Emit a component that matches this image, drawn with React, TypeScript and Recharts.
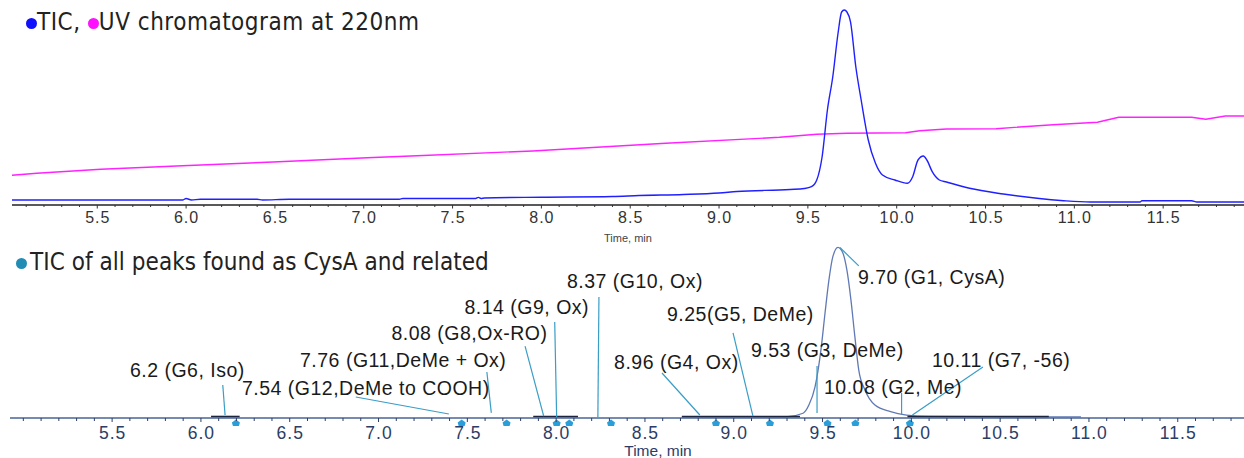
import React from 'react'
import { ComposedChart, Line, Scatter, XAxis, YAxis, ReferenceLine } from 'recharts'

// upper panel: TIC + UV trace (relative intensity)
const topTimes = [5.02, 5.98, 6.0, 6.03, 6.08, 6.4, 6.43, 6.58, 7.2, 7.22, 7.63, 7.645, 7.66, 7.68, 8.0, 8.4, 8.55, 8.8, 9.0, 9.1, 9.4, 9.48, 9.52, 9.55, 9.58, 9.61, 9.64, 9.67, 9.69, 9.705, 9.72, 9.74, 9.77, 9.8, 9.84, 9.88, 9.92, 9.99, 10.06, 10.09, 10.12, 10.15, 10.17, 10.2, 10.24, 10.28, 10.41, 10.6, 10.79, 10.94, 11.09, 11.37, 11.38, 11.66, 11.69, 11.955]
const topTicValues = [2.5, 2.5, 3.25, 2.5, 2.85, 2.85, 2.5, 2.85, 2.85, 3.25, 3.25, 3.8, 3.25, 3.5, 3.9, 4.25, 4.75, 5.25, 6, 6.75, 7.75, 8.25, 9.15, 12.5, 24, 47.5, 64, 86, 96.5, 97.5, 96.5, 91.6, 69, 52.5, 32.5, 21, 15, 12.5, 10.85, 14.15, 22.5, 24.5, 22.5, 16.65, 12.5, 11.5, 8.35, 5.5, 3.35, 2.15, 1.5, 1.5, 2.15, 2.15, 1.5, 1.5]

const uvTimes = [5.02, 5.16, 5.52, 5.98, 6.49, 7.02, 7.3, 7.95, 8.7, 9.34, 9.55, 9.72, 10.05, 10.13, 10.28, 10.56, 10.88, 11.13, 11.25, 11.66, 11.74, 11.85, 11.955]
const uvValues = [14.85, 15.85, 17.85, 19.65, 21.5, 23.65, 24.65, 27, 30.85, 33.85, 35.35, 35.85, 36.15, 37.15, 38, 38.15, 40.15, 41.35, 43.85, 43.85, 42.85, 44.5, 44.5]

// lower panel: TIC of CysA-related peaks
const lowTimes = [8.708, 9.292, 9.39, 9.423, 9.458, 9.491, 9.514, 9.536, 9.558, 9.587, 9.615, 9.637, 9.66, 9.682, 9.704, 9.739, 9.795, 9.883, 9.973, 10.099, 10.955]
const lowValues = [0.6, 0.6, 2.7, 7.4, 17.9, 38.9, 60, 78.9, 92.2, 97.5, 94.1, 84.6, 67.4, 46.5, 27.4, 16, 7.4, 3.6, 1.7, 0.9, 0.6]
const darkSegments = [[6.057, 6.218], [7.871, 8.123], [8.708, 9.373], [9.978, 10.774]]
const darkLevel = 0.8

const markerTimes = [6.197, 7.468, 7.721, 8.003, 8.074, 8.309, 8.9, 9.204, 9.528, 9.685, 9.992]

const peakLabels = ['6.2 (G6, Iso)', '7.54 (G12,DeMe to COOH)', '7.76 (G11,DeMe + Ox)', '8.08 (G8,Ox-RO)', '8.14 (G9, Ox)', '8.37 (G10, Ox)', '8.96 (G4, Ox)', '9.25(G5, DeMe)', '9.53 (G3, DeMe)', '9.70 (G1, CysA)', '10.11 (G7, -56)', '10.08 (G2, Me)']
const labelT = [5.6, 6.231, 6.558, 7.073, 7.484, 8.061, 8.326, 8.624, 9.097, 9.699, 10.116, 9.508]
const labelV = [27.4, 17.1, 33.1, 48.6, 63.6, 78.3, 32, 59.4, 38.9, 80.6, 33.1, 17.7]
const leaderStartT = [6.123, 6.872, 7.61, 7.825, 7.992, 8.241, 8.596, 8.996, 9.469, 9.704, 10.403, 9.945]
const leaderStartV = [18.9, 12, 26.3, 41.1, 54.9, 69.1, 25.7, 48.6, 29.7, 86.9, 29.1, 14.3]
const leaderEndT = [6.136, 7.396, 7.635, 7.93, 8.003, 8.235, 8.809, 9.108, 9.469, 9.598, 10.006, 9.945]
const leaderEndV = [1.7, 2.3, 2.9, 1.1, 0, 0.6, 1.7, 1.1, 2.9, 97.4, 1.7, 1.7]

const majorTicks = [5.5, 6.0, 6.5, 7.0, 7.5, 8.0, 8.5, 9.0, 9.5, 10.0, 10.5, 11.0, 11.5]
const topMinor = Array.from({ length: 69 }, (_, i) => (51 + i) / 10)
const lowMinor = Array.from({ length: 69 }, (_, i) => (50 + i) / 10)

const zip = (ts: number[], vs: number[]) => ts.map((t, i) => ({ t, v: vs[i] }))
const topTic = zip(topTimes, topTicValues)
const uv = zip(uvTimes, uvValues)
const lowTic = zip(lowTimes, lowValues)
const markers = markerTimes.map((t) => ({ t, v: 0 }))
const labels = peakLabels.map((label, i) => ({ t: labelT[i], v: labelV[i], label }))

const legendFont = '"DejaVu Sans Condensed", "Liberation Sans Narrow", "DejaVu Sans", sans-serif'
const axisFont = '"Liberation Sans", Arial, sans-serif'

function makeTick(color: string, fontSize: number, spacing: number, gap: number, majorLen: number, minorLen: number) {
  return (props: any) => {
    const { x, y, payload } = props
    const val = payload.value
    const major = majorTicks.some((m) => Math.abs(m - val) < 1e-6)
    return (
      <g>
        <line x1={x} x2={x} y1={y} y2={y + (major ? majorLen : minorLen)} stroke={color} strokeWidth={1} />
        {major && (
          <text x={x + spacing / 2} y={y + gap} textAnchor="middle" dominantBaseline="central" fill={color} fontSize={fontSize} letterSpacing={spacing} fontFamily={axisFont}>
            {val.toFixed(1)}
          </text>
        )}
      </g>
    )
  }
}

const Dot = ({ color, gap }: { color: string; gap: number }) => (
  <span style={{ display: 'inline-block', width: 11, height: 11, borderRadius: 6, background: color, marginRight: gap, verticalAlign: 1 }} />
)

export default function App() {
  return (
    <div style={{ position: 'absolute', left: 0, top: 0, width: 1244, height: 458, background: '#fff', overflow: 'hidden' }}>
      <div style={{ position: 'absolute', left: 0, top: 0 }}>
        <ComposedChart width={1244} height={250} margin={{ top: 5, right: 0, left: 12, bottom: 0 }}>
          <XAxis
            dataKey="t"
            type="number"
            domain={[5.02, 11.955]}
            ticks={topMinor}
            interval={0}
            height={45}
            tickSize={0}
            tickMargin={0}
            tickLine={false}
            axisLine={{ stroke: '#222', strokeWidth: 1.3 }}
            tick={makeTick('#333', 16, 1, 12.5, 3.5, 2)}
            label={{ value: 'Time, min', position: 'insideBottom', offset: 8, fill: '#444', fontSize: 11, fontFamily: axisFont }}
          />
          <YAxis dataKey="v" type="number" domain={[0, 100]} hide />
          <Line data={uv} dataKey="v" type="linear" stroke="#ff22ff" strokeWidth={1.4} dot={false} isAnimationActive={false} />
          <Line data={topTic} dataKey="v" type="monotone" stroke="#2020ff" strokeWidth={1.4} dot={false} isAnimationActive={false} />
        </ComposedChart>
      </div>

      <div style={{ position: 'absolute', left: 0, top: 240 }}>
        <ComposedChart width={1244} height={218} margin={{ top: 3, right: 0, left: 10, bottom: 0 }}>
          <XAxis
            dataKey="t"
            type="number"
            domain={[4.925, 11.873]}
            ticks={lowMinor}
            interval={0}
            height={40}
            tickSize={0}
            tickMargin={0}
            tickLine={false}
            axisLine={{ stroke: '#4a6596', strokeWidth: 1.3 }}
            tick={makeTick('#2b3d66', 17.5, 1, 14.5, 4, 3)}
            label={(p: any) => (
              <text x={p.viewBox.x + p.viewBox.width / 2 + 31} y={p.viewBox.y + 32.5} textAnchor="middle" dominantBaseline="central" fill="#2b3d66" fontSize={15.5} fontFamily={axisFont}>
                Time, min
              </text>
            )}
          />
          <YAxis dataKey="v" type="number" domain={[0, 100]} hide />
          <Line data={lowTic} dataKey="v" type="monotone" stroke="#6079b4" strokeWidth={1.3} dot={false} isAnimationActive={false} />
          {darkSegments.map((seg, i) => (
            <Line
              key={'d' + i}
              data={seg.map((t) => ({ t, v: darkLevel }))}
              dataKey="v"
              type="linear"
              stroke="#1c2540"
              strokeWidth={1.8}
              dot={false}
              isAnimationActive={false}
            />
          ))}
          {peakLabels.map((_, i) => (
            <ReferenceLine
              key={'l' + i}
              segment={[{ x: leaderStartT[i], y: leaderStartV[i] }, { x: leaderEndT[i], y: leaderEndV[i] }]}
              stroke="#3a9dc6"
              strokeWidth={1.2}
              ifOverflow="visible"
            />
          ))}
          <Scatter
            data={markers}
            dataKey="v"
            isAnimationActive={false}
            shape={(p: any) => (
              <polygon
                points={`${p.cx},${p.cy + 1.5} ${p.cx + 4},${p.cy + 4.5} ${p.cx + 3},${p.cy + 8} ${p.cx - 3},${p.cy + 8} ${p.cx - 4},${p.cy + 4.5}`}
                fill="#2a9ed8"
              />
            )}
          />
          <Scatter
            data={labels}
            dataKey="v"
            isAnimationActive={false}
            shape={(p: any) => (
              <text x={p.cx} y={p.cy} dominantBaseline="central" fill="#1a1a1a" fontSize={19.5} letterSpacing={0.5} fontFamily={axisFont}>
                {p.payload.label}
              </text>
            )}
          />
        </ComposedChart>
      </div>

      <div style={{ position: 'absolute', left: 26, top: 8, fontFamily: legendFont, fontSize: 24, letterSpacing: 0.5, lineHeight: '28px', color: '#222', whiteSpace: 'nowrap' }}>
        <Dot color="#1010ff" gap={0} />TIC, <Dot color="#ff10ff" gap={0} />UV chromatogram at 220nm
      </div>
      <div style={{ position: 'absolute', left: 16, top: 248, fontFamily: legendFont, fontSize: 24, letterSpacing: 0.05, lineHeight: '28px', color: '#222', whiteSpace: 'nowrap' }}>
        <Dot color="#1f8db5" gap={3} />TIC of all peaks found as CysA and related
      </div>
    </div>
  )
}
